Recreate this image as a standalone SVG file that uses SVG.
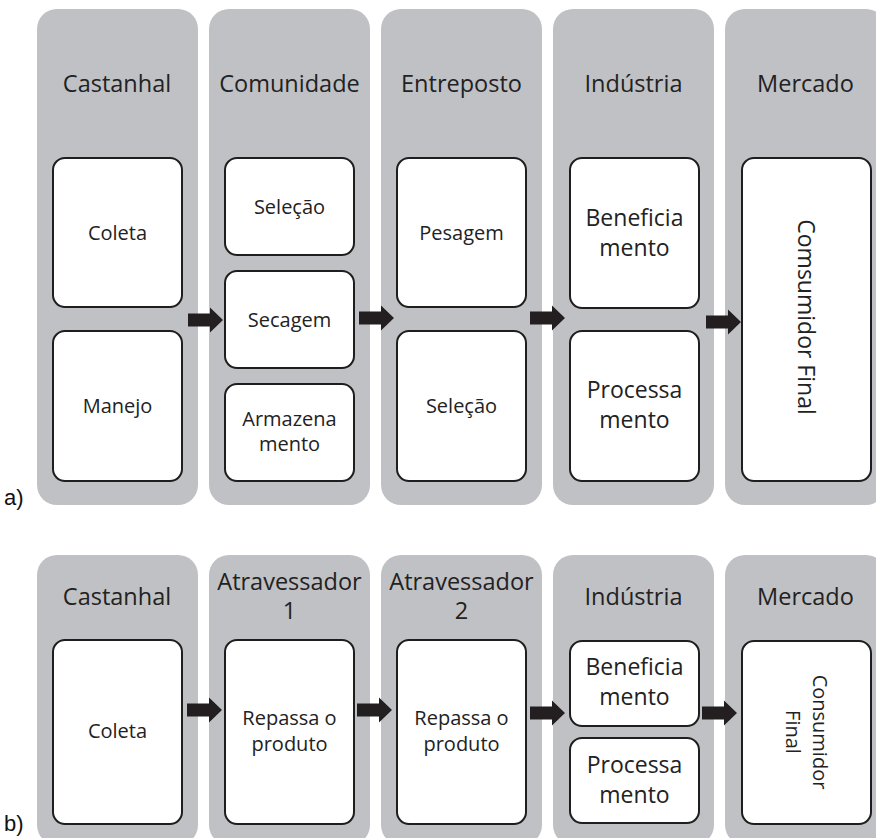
<svg xmlns="http://www.w3.org/2000/svg" width="876" height="838" viewBox="0 0 876 838">
<defs>
<style>
.col{fill:#c0c1c4;}
.box{fill:#ffffff;stroke:#1e1e1e;stroke-width:2;}
.hd{font-family:"Open Sans","Noto Sans","DejaVu Sans",sans-serif;font-size:23.5px;fill:#222222;text-anchor:middle;}
.tx{font-family:"Open Sans","Noto Sans","DejaVu Sans",sans-serif;font-size:20px;fill:#222222;text-anchor:middle;}
.tl{font-family:"Open Sans","Noto Sans","DejaVu Sans",sans-serif;font-size:23px;fill:#222222;text-anchor:middle;}
.lbl{font-family:"Liberation Sans",Arial,sans-serif;font-size:22px;fill:#111111;}
.arr{fill:#231f20;}
</style>
<path id="arrow" d="M0,-6.5 H22 V-12.5 L35,0 L22,12.5 V6.5 H0 Z"/>
</defs>
<rect width="876" height="838" fill="#ffffff"/>

<!-- Panel a -->
<g id="a-castanhal">
<rect class="col" x="37" y="9" width="161" height="496" rx="20"/>
<text class="hd" x="117" y="92">Castanhal</text>
<g id="a-coleta"><rect class="box" x="53" y="158" width="129" height="149" rx="12"/><text class="tx" x="117.5" y="240">Coleta</text></g>
<g id="a-manejo"><rect class="box" x="53" y="331" width="129" height="150" rx="12"/><text class="tx" x="117.5" y="413">Manejo</text></g>
</g>
<g id="a-comunidade">
<rect class="col" x="209" y="9" width="161" height="496" rx="20"/>
<text class="hd" x="289.5" y="92">Comunidade</text>
<g id="a-selecao1"><rect class="box" x="225" y="158" width="129" height="97" rx="12"/><text class="tx" x="289.5" y="214">Seleção</text></g>
<g id="a-secagem"><rect class="box" x="225" y="271" width="129" height="97" rx="12"/><text class="tx" x="289.5" y="327">Secagem</text></g>
<g id="a-armazenamento"><rect class="box" x="225" y="384" width="129" height="97" rx="12"/><text class="tx" x="289.5" y="426">Armazena</text><text class="tx" x="289.5" y="451">mento</text></g>
</g>
<g id="a-entreposto">
<rect class="col" x="381" y="9" width="161" height="496" rx="20"/>
<text class="hd" x="461.5" y="92">Entreposto</text>
<g id="a-pesagem"><rect class="box" x="397" y="158" width="129" height="149" rx="12"/><text class="tx" x="461.5" y="240">Pesagem</text></g>
<g id="a-selecao2"><rect class="box" x="397" y="331" width="129" height="150" rx="12"/><text class="tx" x="461.5" y="413">Seleção</text></g>
</g>
<g id="a-industria">
<rect class="col" x="553" y="9" width="161" height="496" rx="20"/>
<text class="hd" x="633.5" y="92">Indústria</text>
<g id="a-beneficiamento"><rect class="box" x="570" y="158" width="129" height="150" rx="12"/><text class="tl" x="634.5" y="226">Beneficia</text><text class="tl" x="634.5" y="256">mento</text></g>
<g id="a-processamento"><rect class="box" x="570" y="331" width="129" height="150" rx="12"/><text class="tl" x="634.5" y="398">Processa</text><text class="tl" x="634.5" y="428">mento</text></g>
</g>
<g id="a-mercado">
<rect class="col" x="725" y="9" width="161" height="496" rx="20"/>
<text class="hd" x="805.5" y="92">Mercado</text>
<g id="a-consumidor"><rect class="box" x="742" y="158" width="129" height="323" rx="12"/><text class="tl" transform="translate(798,317) rotate(90)" x="0" y="0">Comsumidor Final</text></g>
</g>
<text class="lbl" x="4" y="505">a)</text>

<!-- Panel b -->
<g id="b-castanhal">
<rect class="col" x="37" y="555" width="161" height="290" rx="20"/>
<text class="hd" x="117" y="605">Castanhal</text>
<g id="b-coleta"><rect class="box" x="53" y="640" width="129" height="184" rx="12"/><text class="tx" x="117.5" y="738">Coleta</text></g>
</g>
<g id="b-atravessador1">
<rect class="col" x="209" y="555" width="161" height="290" rx="20"/>
<text class="hd" x="289.5" y="590">Atravessador</text>
<text class="hd" x="289.5" y="619">1</text>
<g id="b-repassa1"><rect class="box" x="225" y="640" width="129" height="184" rx="12"/><text class="tx" x="289.5" y="725">Repassa o</text><text class="tx" x="289.5" y="751">produto</text></g>
</g>
<g id="b-atravessador2">
<rect class="col" x="381" y="555" width="161" height="290" rx="20"/>
<text class="hd" x="461.5" y="590">Atravessador</text>
<text class="hd" x="461.5" y="619">2</text>
<g id="b-repassa2"><rect class="box" x="397" y="640" width="129" height="184" rx="12"/><text class="tx" x="461.5" y="725">Repassa o</text><text class="tx" x="461.5" y="751">produto</text></g>
</g>
<g id="b-industria">
<rect class="col" x="553" y="555" width="161" height="290" rx="20"/>
<text class="hd" x="633.5" y="605">Indústria</text>
<g id="b-beneficiamento"><rect class="box" x="570" y="641" width="129" height="85" rx="12"/><text class="tl" x="634.5" y="675">Beneficia</text><text class="tl" x="634.5" y="705">mento</text></g>
<g id="b-processamento"><rect class="box" x="570" y="738" width="129" height="85" rx="12"/><text class="tl" x="634.5" y="773">Processa</text><text class="tl" x="634.5" y="803">mento</text></g>
</g>
<g id="b-mercado">
<rect class="col" x="725" y="555" width="161" height="290" rx="20"/>
<text class="hd" x="805.5" y="605">Mercado</text>
<g id="b-consumidor"><rect class="box" x="742" y="641" width="129" height="183" rx="12"/><text class="tx" transform="translate(813,732) rotate(90)" x="0" y="0">Consumidor</text><text class="tx" transform="translate(786,732) rotate(90)" x="0" y="0">Final</text></g>
</g>
<text class="lbl" x="4" y="831">b)</text>

<!-- Connectors -->
<g id="connectors" class="arr">
<use href="#arrow" x="188" y="320"/>
<use href="#arrow" x="359" y="318"/>
<use href="#arrow" x="530" y="318"/>
<use href="#arrow" x="706" y="322"/>
<use href="#arrow" x="187" y="710"/>
<use href="#arrow" x="357" y="710"/>
<use href="#arrow" x="530" y="713"/>
<use href="#arrow" x="702" y="713"/>
</g>
</svg>
